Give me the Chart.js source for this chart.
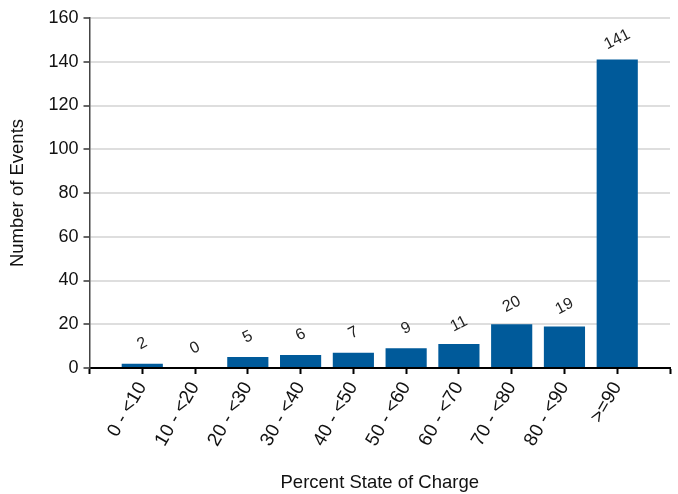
<!DOCTYPE html>
<html lang="en">
<head>
  <meta charset="UTF-8" />
  <title>Events by State of Charge</title>
  <script src="https://cdn.jsdelivr.net/npm/chart.js"></script>
  <style>
    html, body { margin: 0; padding: 0; background: #fff; }
    #wrap { width: 678px; height: 494px; }
  </style>
</head>
<body>
  <div id="wrap"><canvas id="socChart" width="678" height="494"></canvas></div>

  <script>
    // data
    const categories = ['0 - <10', '10 - <20', '20 - <30', '30 - <40', '40 - <50',
                        '50 - <60', '60 - <70', '70 - <80', '80 - <90', '>=90'];
    const eventCounts = [2, 0, 5, 6, 7, 9, 11, 20, 19, 141];
    const yMax = 160;
    const yStep = 20;

    const FONT = '"Liberation Sans", Arial, sans-serif';
    const BAR_COLOR = '#005a9a';

    // value labels above each bar, tilted
    const barValueLabels = {
      id: 'barValueLabels',
      afterDatasetsDraw(chart) {
        const ctx = chart.ctx;
        const meta = chart.getDatasetMeta(0);
        ctx.save();
        ctx.font = '16px ' + FONT;
        ctx.fillStyle = '#222';
        ctx.textAlign = 'center';
        ctx.textBaseline = 'middle';
        meta.data.forEach((bar, i) => {
          ctx.save();
          ctx.translate(bar.x, bar.y - 20);
          ctx.rotate(-27 * Math.PI / 180);
          ctx.fillText(String(eventCounts[i]), 0, 0);
          ctx.restore();
        });
        ctx.restore();
      }
    };

    new Chart(document.getElementById('socChart').getContext('2d'), {
      type: 'bar',
      data: {
        datasets: [{
          data: eventCounts.map((v, i) => ({ x: i, y: v })),
          backgroundColor: BAR_COLOR,
          borderWidth: 0,
          barPercentage: 0.78,
          categoryPercentage: 1
        }]
      },
      options: {
        responsive: false,
        animation: false,
        layout: { padding: { top: 18, right: 8, bottom: 0, left: 0 } },
        plugins: {
          legend: { display: false },
          tooltip: { enabled: false }
        },
        scales: {
          x: {
            type: 'linear',
            min: -1,
            max: categories.length,
            offset: false,
            afterFit: s => {
              s.height = 126;
              s.paddingLeft = 0;
              s.paddingRight = 0;
            },
            grid: {
              offset: false,
              drawOnChartArea: false,
              drawTicks: true,
              tickLength: 6,
              tickWidth: 2,
              tickColor: '#000'
            },
            border: { color: '#000', width: 2 },
            ticks: {
              stepSize: 1,
              autoSkip: false,
              minRotation: 60,
              maxRotation: 60,
              padding: 4,
              color: '#111',
              font: { family: FONT, size: 19 },
              callback: v => (Number.isInteger(v) && v >= 0 && v < categories.length) ? categories[v] : ''
            },
            title: {
              display: true,
              text: 'Percent State of Charge',
              color: '#111',
              font: { family: FONT, size: 18.5 },
              padding: { top: 4, bottom: 0 }
            }
          },
          y: {
            min: 0,
            max: yMax,
            afterFit: s => {
              s.width = 89.5;
              s.paddingTop = 0;
              s.paddingBottom = 0;
            },
            grid: {
              color: c => c.tick && c.tick.value === 0 ? 'rgba(0,0,0,0)' : '#dedede',
              lineWidth: 2,
              tickLength: 6,
              tickWidth: 1.5,
              tickColor: '#333'
            },
            border: { color: '#444', width: 1.5 },
            ticks: {
              stepSize: yStep,
              padding: 5,
              color: '#111',
              font: { family: FONT, size: 18 }
            },
            title: {
              display: true,
              text: 'Number of Events',
              color: '#111',
              font: { family: FONT, size: 18.5 },
              padding: { top: 7, bottom: 0 }
            }
          }
        }
      },
      plugins: [barValueLabels]
    });
  </script>
</body>
</html>
